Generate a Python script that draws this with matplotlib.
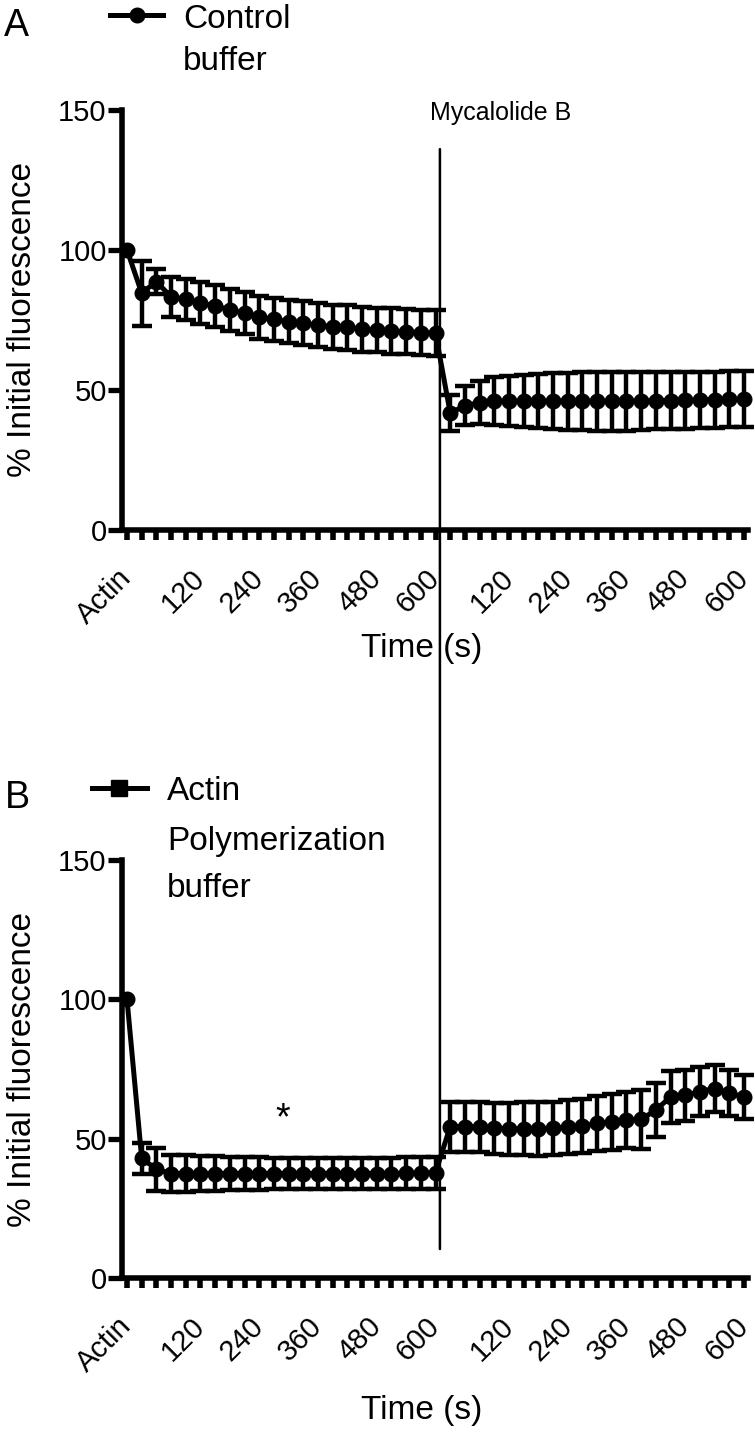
import numpy as np
import matplotlib.pyplot as plt
from matplotlib.lines import Line2D
from matplotlib.patches import ConnectionPatch

plt.rcParams['font.family'] = ['Liberation Sans', 'DejaVu Sans']

# x categories: Actin, then 0-600 s every 30 s before and after Mycalolide B
times = list(range(0, 601, 30))
xcats = ['Actin'] + [str(t) for t in times] + [str(t) for t in times]
shown = ['Actin', '120', '240', '360', '480', '600']

# panel A: control buffer (mean, SEM)
ctrl_mean = [100, 84.6, 88.7, 83.2, 82.4, 81.0, 80.0, 78.6, 77.4, 76.0, 75.2,
             74.4, 73.8, 73.1, 72.6, 72.4, 71.7, 71.4, 71.0, 70.8, 70.5, 70.3,
             41.8, 44.3, 45.5, 46.0, 46.0, 46.0, 46.0, 46.0, 46.0, 46.0, 46.0,
             46.0, 46.0, 46.0, 46.2, 46.2, 46.3, 46.4, 46.5, 46.6, 46.7]
ctrl_sem = [0, 11.6, 4.5, 7.2, 7.3, 7.4, 7.5, 7.6, 7.6, 7.7, 7.7,
            7.8, 7.8, 7.9, 7.9, 8.0, 8.0, 8.0, 8.1, 8.1, 8.2, 8.2,
            6.3, 7.0, 7.8, 8.5, 9.0, 9.4, 9.7, 10.0, 10.2, 10.4, 10.5,
            10.5, 10.5, 10.4, 10.3, 10.2, 10.1, 10.1, 10.0, 10.0, 10.0]

# panel B: actin polymerization buffer (mean, SEM)
poly_mean = [100, 43.0, 39.0, 37.5, 37.5, 37.5, 37.5, 37.5, 37.5, 37.5, 37.5,
             37.5, 37.5, 37.5, 37.5, 37.5, 37.5, 37.5, 37.5, 37.6, 37.7, 37.8,
             54.3, 54.3, 54.3, 53.7, 53.5, 53.5, 53.5, 53.7, 54.1, 54.5, 55.5,
             56.1, 56.7, 56.9, 60.3, 65.0, 65.5, 66.9, 68.0, 66.3, 65.0]
poly_sem = [0, 5.5, 7.8, 6.8, 6.6, 6.4, 6.2, 6.0, 5.9, 5.8, 5.7,
            5.7, 5.7, 5.7, 5.6, 5.6, 5.6, 5.6, 5.6, 5.7, 5.8, 5.8,
            9.0, 9.0, 9.0, 9.2, 9.4, 9.5, 9.6, 9.6, 9.6, 9.6, 9.8,
            10.0, 10.2, 10.5, 9.6, 9.2, 9.0, 8.8, 8.4, 8.2, 7.8]

x = np.arange(len(xcats))
labels = [c if c in shown and not (c == '600' and i == 1) else '' for i, c in enumerate(xcats)]

fig = plt.figure(figsize=(7.55, 14.35), dpi=100)
ax1 = fig.add_axes([0.1616, 0.6307, 0.8291, 0.2927])
ax2 = fig.add_axes([0.1616, 0.1094, 0.8291, 0.2913])

for ax, mean, sem in [(ax1, ctrl_mean, ctrl_sem), (ax2, poly_mean, poly_sem)]:
    mean = np.array(mean)
    sem = np.array(sem)
    ax.plot(x, mean, '-o', color='k', lw=3.6, ms=10.5, clip_on=False, zorder=3)
    ax.errorbar(x[1:], mean[1:], yerr=sem[1:], fmt='none', ecolor='k',
                elinewidth=3.2, capsize=7, capthick=3.2, clip_on=False, zorder=3)
    ax.set_xlim(-0.34, 42.27)
    ax.set_ylim(0, 150)
    ax.set_yticks([0, 50, 100, 150])
    ax.set_xticks(x)
    ax.set_xticklabels(labels, rotation=45, ha='right', va='center',
                       rotation_mode='anchor', fontsize=21)
    ax.tick_params(axis='x', length=7.5, width=4, pad=24)
    ax.tick_params(axis='y', length=10, width=3.8, labelsize=21, pad=1)
    for s in ['top', 'right']:
        ax.spines[s].set_visible(False)
    for s in ['left', 'bottom']:
        ax.spines[s].set_linewidth(4)
    ax.set_ylabel('% Initial fluorescence', fontsize=24)
    ax.yaxis.set_label_coords(-0.135, 0.5)
    ax.set_xlabel('Time (s)', fontsize=24)

ax1.xaxis.set_label_coords(0.479, -0.245)
ax2.xaxis.set_label_coords(0.479, -0.28)

ax1.text(25.4, 149, 'Mycalolide B', ha='center', va='center', fontsize=18)
ax2.text(10.6, 57, '*', ha='center', va='center', fontsize=27)

# Mycalolide B addition line across both panels
con = ConnectionPatch(xyA=(21.3, 136), coordsA='data', axesA=ax1,
                      xyB=(21.3, 10.4), coordsB='data', axesB=ax2,
                      color='k', lw=1.8)
fig.add_artist(con)

W, H = 755, 1435

def fx(px):
    return px / W

def fy(py):
    return 1 - py / H

# panel letters and legends
fig.text(fx(4), fy(36), 'A', fontsize=27, va='baseline')
fig.text(fx(5), fy(808), 'B', fontsize=27, va='baseline')

fig.add_artist(Line2D([fx(110), fx(137), fx(163)], [fy(15)] * 3, transform=fig.transFigure,
                      color='k', lw=3.6, marker='o', ms=10.5, markevery=[1]))
for txt, base in [('Control', 28), ('buffer', 70)]:
    fig.text(fx(183), fy(base), txt, fontsize=24, va='baseline')

fig.add_artist(Line2D([fx(92), fx(119), fx(147)], [fy(788)] * 3, transform=fig.transFigure,
                      color='k', lw=3.6, marker='s', ms=11, markevery=[1]))
for txt, base in [('Actin', 800), ('Polymerization', 850), ('buffer', 897)]:
    fig.text(fx(167), fy(base), txt, fontsize=24, va='baseline')

fig.savefig('out.png', dpi=100)
